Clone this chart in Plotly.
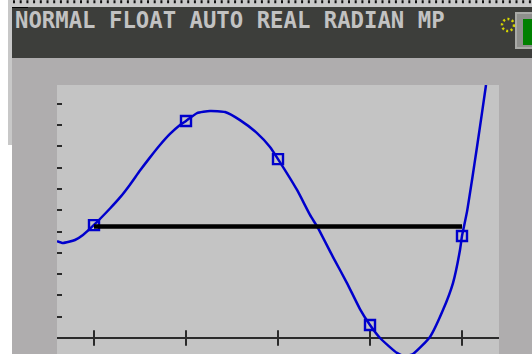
import plotly.graph_objects as go

# ---- data (x in tick units, y in tick units) ----
curve_x = [0.598, 0.663, 0.793, 0.880, 1.000, 1.174, 1.283, 1.391, 1.500, 1.609,
           1.717, 1.826, 1.935, 2.000, 2.120, 2.261, 2.424, 2.587, 2.772, 2.913,
           3.000, 3.207, 3.348, 3.435, 3.598, 3.750, 3.891, 4.000, 4.109, 4.293,
           4.380, 4.467, 4.652, 4.793, 4.902, 4.978, 5.000, 5.054, 5.109, 5.163,
           5.217, 5.261]
curve_y = [4.55, 4.46, 4.60, 4.84, 5.31, 6.08, 6.60, 7.20, 7.86, 8.48,
           9.06, 9.58, 10.00, 10.19, 10.56, 10.66, 10.61, 10.23, 9.62, 8.97,
           8.40, 6.95, 5.78, 5.16, 3.80, 2.58, 1.36, 0.61, 0.00, -0.70,
           -0.85, -0.75, 0.05, 1.31, 2.58, 4.13, 4.79, 5.92, 7.42, 8.97,
           10.56, 11.88]
point_x = [1, 2, 3, 4, 5]
point_y = [5.30, 10.19, 8.40, 0.61, 4.79]
hline_x = [1, 5]
hline_y = [5.23, 5.23]
xtick_vals = [1, 2, 3, 4, 5]
header_text = "NORMAL FLOAT AUTO REAL RADIAN MP"

W, H = 532, 354
L, R, T, B = 57, 33, 85, 0
PW, PH = W - L - R, H - T - B


def px(v):
    return (v - L) / PW


def py(v):
    return (H - B - v) / PH


fig = go.Figure()

fig.add_trace(go.Scatter(x=curve_x, y=curve_y, mode="lines",
                         line=dict(color="#0000cc", width=2.5, shape="spline", smoothing=0.5),
                         hoverinfo="skip"))
fig.add_trace(go.Scatter(x=xtick_vals, y=[0] * len(xtick_vals), mode="markers",
                         marker=dict(symbol="line-ns", size=11,
                                     line=dict(color="#2a2a2a", width=2)),
                         hoverinfo="skip"))
fig.add_trace(go.Scatter(x=point_x, y=point_y, mode="markers",
                         marker=dict(symbol="square-open", size=10, color="#0000cc",
                                     line=dict(color="#0000cc", width=2.4)),
                         hoverinfo="skip"))
fig.add_trace(go.Scatter(x=hline_x, y=hline_y, mode="lines",
                         line=dict(color="#000000", width=4.5), hoverinfo="skip"))

shapes = []
# left white strip and light gray strip
shapes.append(dict(type="rect", xref="paper", yref="paper", x0=px(0), x1=px(12),
                   y0=py(354), y1=py(0), fillcolor="#ffffff", line=dict(width=0), layer="below"))
shapes.append(dict(type="rect", xref="paper", yref="paper", x0=px(8), x1=px(12),
                   y0=py(145), y1=py(0), fillcolor="#c8c8c8", line=dict(width=0), layer="below"))
# top dotted strip
shapes.append(dict(type="rect", xref="paper", yref="paper", x0=px(12), x1=px(532),
                   y0=py(7), y1=py(0), fillcolor="#c8c8c8", line=dict(width=0), layer="below"))
shapes.append(dict(type="line", xref="paper", yref="paper", x0=px(13), x1=px(532),
                   y0=py(1.8), y1=py(1.8), line=dict(color="#111111", width=3, dash="2px,4.7px")))
# dark header
shapes.append(dict(type="rect", xref="paper", yref="paper", x0=px(12), x1=px(532),
                   y0=py(58), y1=py(7), fillcolor="#3d3e3b", line=dict(width=0)))
shapes.append(dict(type="line", xref="paper", yref="paper", x0=px(12), x1=px(28),
                   y0=py(7.5), y1=py(7.5), line=dict(color="#000000", width=1)))
# busy indicator (yellow dotted circle)
shapes.append(dict(type="circle", xref="paper", yref="paper", x0=px(502), x1=px(514),
                   y0=py(31), y1=py(19), line=dict(color="#d6d600", width=2.5, dash="2px,2.5px")))
# battery
shapes.append(dict(type="rect", xref="paper", yref="paper", x0=px(516), x1=px(534),
                   y0=py(48), y1=py(13), fillcolor="#8e8f8c", line=dict(color="#a9aaa7", width=2)))
shapes.append(dict(type="rect", xref="paper", yref="paper", x0=px(523), x1=px(534),
                   y0=py(45), y1=py(19), fillcolor="#008000", line=dict(width=0)))

fig.update_layout(
    width=W, height=H,
    margin=dict(l=L, r=R, t=T, b=B, pad=0),
    paper_bgcolor="#afadae",
    plot_bgcolor="#c4c4c4",
    showlegend=False,
    shapes=shapes,
    xaxis=dict(range=[(L - 2) / 92, (L + PW - 2) / 92], showgrid=False, zeroline=False,
               showticklabels=False, ticks="", showline=False, fixedrange=True),
    yaxis=dict(range=[(338 - 354) / 21.3, (338 - 85) / 21.3], showgrid=False,
               zeroline=True, zerolinecolor="#2a2a2a", zerolinewidth=2,
               tick0=0, dtick=1, ticks="inside", ticklen=5, tickwidth=2,
               tickcolor="#2a2a2a", showticklabels=False, showline=False, fixedrange=True),
    annotations=[dict(text="<b>" + header_text + "</b>", xref="paper", yref="paper",
                      x=px(13), y=py(20.5), xanchor="left", yanchor="middle",
                      showarrow=False,
                      font=dict(family="DejaVu Sans Mono", size=22.3, color="#c2c2c2"))],
)

fig.write_html("out.html", config={"displayModeBar": False})

# remove default page margin so the figure sits at the window's top-left corner
with open("out.html", "r", encoding="utf-8") as f:
    html = f.read()
html = html.replace("<head>", "<head><style>html,body{margin:0;padding:0;overflow:hidden;}</style>", 1)
with open("out.html", "w", encoding="utf-8") as f:
    f.write(html)
